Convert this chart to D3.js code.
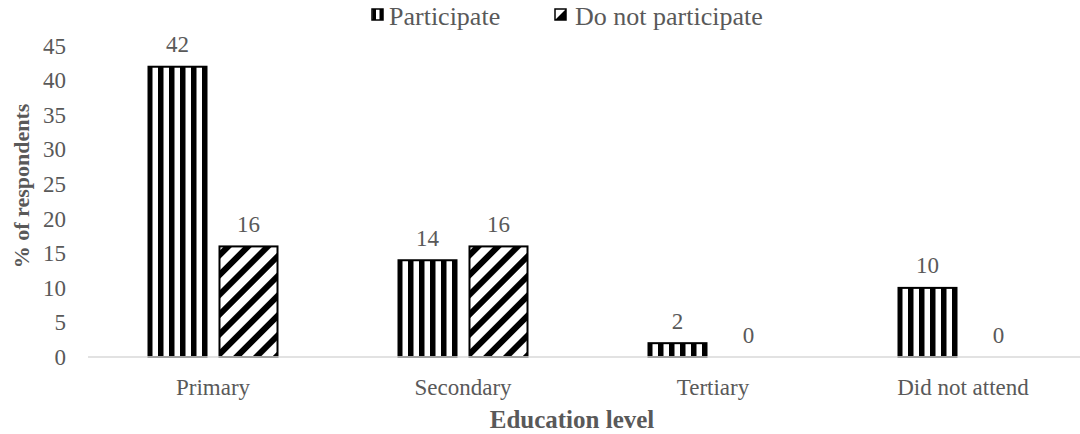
<!DOCTYPE html>
<html>
<head>
<meta charset="utf-8">
<script src="https://cdn.jsdelivr.net/npm/d3@7"></script>
<style>
  html, body { margin: 0; padding: 0; background: #fff; }
  svg { display: block; }
  svg text { font-family: "Liberation Serif", serif; }
</style>
</head>
<body>
<svg id="chart" width="1080" height="434"></svg>
<script>
// Education level of respondents, split by participation
const categories = ["Primary", "Secondary", "Tertiary", "Did not attend"];
const seriesNames = ["Participate", "Do not participate"];
const participate = [42, 14, 2, 10];
const doNotParticipate = [16, 16, 0, 0];
const yTicks = [0, 5, 10, 15, 20, 25, 30, 35, 40, 45];

const values = [participate, doNotParticipate];
const rows = categories.map((c, i) => ({
  category: c,
  items: seriesNames.map((s, k) => ({ series: s, value: values[k][i] }))
}));

const FONT = "Liberation Serif";
const svg = d3.select("#chart");
const textColor = "#595959";

const x0 = d3.scaleBand().domain(categories).range([88, 1088]).padding(0);
const groupW = x0.bandwidth() * 0.516;
const x1 = d3.scaleBand().domain(seriesNames)
  .range([-groupW / 2, groupW / 2]).paddingInner(0.183).paddingOuter(0);
const y = d3.scaleLinear().domain([0, 45]).range([357, 46]);

// Fill patterns: vertical stripes and "/" diagonal stripes
const defs = svg.append("defs");
const vp = defs.append("pattern").attr("id", "vstripes")
  .attr("patternUnits", "userSpaceOnUse").attr("width", 11).attr("height", 11);
vp.append("rect").attr("width", 11).attr("height", 11).attr("fill", "#fff");
vp.append("rect").attr("x", 0).attr("width", 5.5).attr("height", 11).attr("fill", "#000");

const dp = defs.append("pattern").attr("id", "dstripes")
  .attr("patternUnits", "userSpaceOnUse").attr("width", 14).attr("height", 14)
  .attr("patternTransform", "rotate(45)");
dp.append("rect").attr("width", 14).attr("height", 14).attr("fill", "#fff");
dp.append("rect").attr("x", 0).attr("width", 6).attr("height", 14).attr("fill", "#000");

const fillFor = { "Participate": "url(#vstripes)", "Do not participate": "url(#dstripes)" };

// Y axis tick labels
svg.append("g").selectAll("text").data(yTicks).join("text")
  .attr("x", 66).attr("y", d => y(d) + 7.8)
  .attr("text-anchor", "end").attr("font-family", FONT)
  .attr("font-size", 23).attr("fill", textColor)
  .text(d => d);

// Bars
const groups = svg.append("g").selectAll("g").data(rows).join("g")
  .attr("transform", d => `translate(${x0(d.category) + x0.bandwidth() / 2},0)`);

groups.selectAll("rect").data(d => d.items.filter(it => it.value > 0)).join("rect")
  .attr("x", d => x1(d.series))
  .attr("y", d => y(d.value))
  .attr("width", x1.bandwidth())
  .attr("height", d => y(0) - y(d.value))
  .attr("fill", d => fillFor[d.series])
  .attr("stroke", "#000").attr("stroke-width", 2);

// Value labels
groups.selectAll("text").data(d => d.items).join("text")
  .attr("x", d => x1(d.series) + x1.bandwidth() / 2)
  .attr("y", d => y(d.value) - 14.5)
  .attr("text-anchor", "middle").attr("font-family", FONT)
  .attr("font-size", 23).attr("fill", textColor)
  .text(d => d.value);

// Category axis
const xAxis = svg.append("g").attr("transform", `translate(0,${y(0)})`)
  .call(d3.axisBottom(x0).tickSize(0).tickPadding(0))
  .attr("font-family", FONT);
xAxis.select(".domain").attr("stroke", "#d9d9d9").attr("stroke-width", 1.5)
  .attr("d", `M88,0H1080`);
xAxis.selectAll(".tick text").attr("y", 38).attr("dy", null)
  .attr("font-size", 23).attr("fill", textColor)
  .attr("font-family", FONT);

// Axis titles
svg.append("text").attr("x", 572).attr("y", 428)
  .attr("text-anchor", "middle").attr("font-family", FONT)
  .attr("font-size", 25).attr("font-weight", "bold")
  .attr("fill", textColor).text("Education level");

svg.append("text").attr("transform", "translate(29,186) rotate(-90)")
  .attr("text-anchor", "middle").attr("font-family", FONT)
  .attr("font-size", 22).attr("font-weight", "bold")
  .attr("fill", textColor).text("% of respondents");

// Legend
const legendItems = [
  { name: "Participate", ix: 372, tx: 389 },
  { name: "Do not participate", ix: 555, tx: 575 }
];
const lg = svg.append("g");
legendItems.forEach((it, i) => {
  const g = lg.append("g").attr("transform", `translate(${it.ix},9)`);
  g.append("rect").attr("width", 11).attr("height", 11).attr("fill", "#fff")
    .attr("stroke", "#000").attr("stroke-width", 1.5);
  if (i === 0) {
    g.append("rect").attr("x", 0.5).attr("y", 0).attr("width", 3.5).attr("height", 11).attr("fill", "#000");
    g.append("rect").attr("x", 7.5).attr("y", 0).attr("width", 3.5).attr("height", 11).attr("fill", "#000");
  } else {
    g.append("path").attr("d", "M11,0L11,11L0,11Z").attr("fill", "#000");
  }
  lg.append("text").attr("x", it.tx).attr("y", 25)
    .attr("font-family", FONT)
    .attr("font-size", 26).attr("fill", textColor).text(it.name);
});
</script>
</body>
</html>
